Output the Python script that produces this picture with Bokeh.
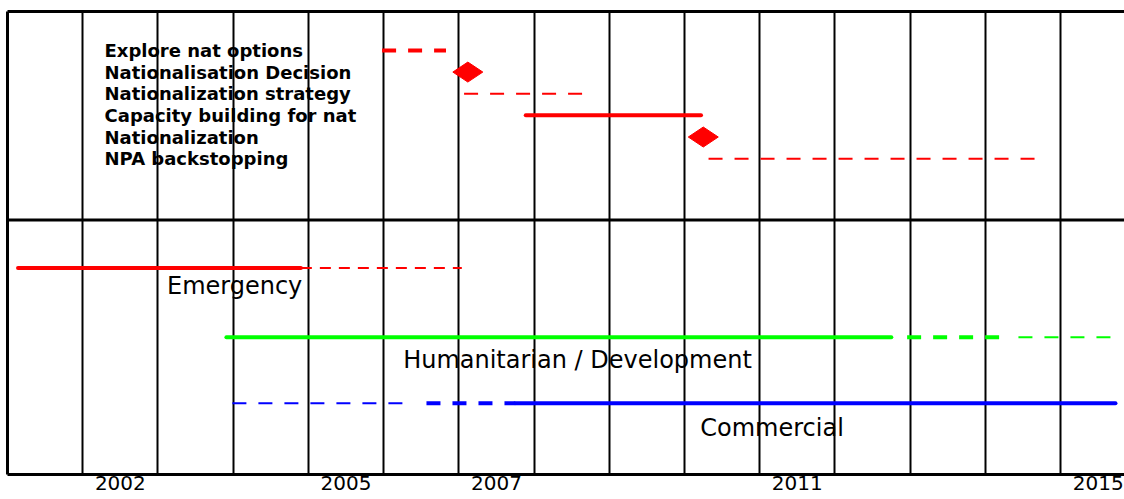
import math
from bokeh.plotting import figure
from bokeh.models import Range1d, FixedTicker, LinearAxis, Span
from bokeh.core.properties import value
from bokeh.embed import file_html
from bokeh.resources import INLINE

# ---------------- data ----------------
# upper section: activity labels (one per row)
activities = ["Explore nat options", "Nationalisation Decision", "Nationalization strategy",
              "Capacity building for nat", "Nationalization", "NPA backstopping"]
act_rows = [1, 2, 3, 4, 5, 6]

# upper section bars (years)
bar_rows = [1, 3, 4, 6]
bar_start = [2005.98, 2007.07, 2007.89, 2010.32]
bar_end = [2006.83, 2008.75, 2010.22, 2014.76]
bar_style = ["thick_dash", "thin_dash", "solid", "thin_dash"]

# milestones
milestone_rows = [2, 5]
milestone_x = [2007.12, 2010.25]

# lower section: phases
phases = ["Emergency", "Humanitarian / Development", "Commercial"]
phase_rows = [11.05, 14.25, 17.3]
phase_colors = ["#ff0000", "#00ff00", "#0000ff"]
phase_label_x = [2003.12, 2006.26, 2010.21]
phase_label_rows = [11.90, 15.31, 18.44]

# phase segments
seg_phase = [0, 0, 1, 1, 1, 2, 2, 2]
seg_start = [2001.14, 2004.90, 2003.91, 2012.96, 2014.44, 2003.99, 2006.57, 2007.75]
seg_end = [2004.90, 2007.04, 2012.75, 2014.28, 2015.73, 2006.39, 2007.75, 2015.73]
seg_style = ["solid", "fine_dash", "solid", "thick_dash", "thin_dash", "thin_dash", "thick_dash", "solid"]

year_edges = list(range(2002, 2016))
tick_years = [2002, 2005, 2007, 2011, 2015]
divider_row = 8.83

# ---------------- styles ----------------
STYLES = {
    "solid": dict(line_width=4, line_dash="solid", line_cap="round"),
    "thick_dash": dict(line_width=4, line_dash="14 12", line_cap="butt"),
    "thin_dash": dict(line_width=2, line_dash="14 12", line_cap="butt"),
    "fine_dash": dict(line_width=2, line_dash="11 8", line_cap="butt"),
}
FONT = "DejaVu Sans"

p = figure(width=1124, height=499, output_backend="svg", toolbar_location=None,
           x_range=Range1d(2001, 2015.85), y_range=Range1d(20.585, -0.797),
           min_border_left=7, min_border_right=0, min_border_top=11, min_border_bottom=25,
           background_fill_color="white", border_fill_color="white")
p.outline_line_color = None

# vertical year lines
p.xgrid.ticker = FixedTicker(ticks=year_edges)
p.xgrid.grid_line_color = "black"
p.xgrid.grid_line_width = 2
p.xgrid.grid_line_alpha = 1
p.ygrid.grid_line_color = None

# bottom axis with year labels
xax = p.xaxis[0]
ticks = [y + 0.5 for y in tick_years]
xax.ticker = FixedTicker(ticks=ticks)
xax.major_label_overrides = {t: str(y) for t, y in zip(ticks, tick_years)}
xax.axis_line_width = 3
xax.axis_line_color = "black"
xax.major_tick_line_color = None
xax.minor_tick_line_color = None
xax.major_tick_out = 0
xax.major_tick_in = 0
xax.major_label_standoff = 1
xax.major_label_text_font = FONT
xax.major_label_text_font_size = "20px"
xax.major_label_text_color = "black"

# left border
yax = p.yaxis[0]
yax.ticker = FixedTicker(ticks=[])
yax.axis_line_width = 3
yax.axis_line_color = "black"
yax.major_tick_line_color = None
yax.minor_tick_line_color = None
yax.major_tick_out = 0
yax.major_label_text_font_size = "0px"

# top border
top = LinearAxis(ticker=FixedTicker(ticks=[]), axis_line_width=3, axis_line_color="black",
                 major_tick_line_color=None, minor_tick_line_color=None, major_tick_out=0,
                 major_label_text_font_size="0px")
p.add_layout(top, "above")

# divider between sections
p.add_layout(Span(location=divider_row, dimension="width", line_color="black", line_width=3))

# upper bars
for style in STYLES:
    idx = [i for i, s in enumerate(bar_style) if s == style]
    if not idx:
        continue
    p.segment(x0=[bar_start[i] for i in idx], y0=[bar_rows[i] for i in idx],
              x1=[bar_end[i] for i in idx], y1=[bar_rows[i] for i in idx],
              line_color="#ff0000", **STYLES[style])

# milestones
p.scatter(x=milestone_x, y=milestone_rows, marker="diamond", size=30, angle=math.pi / 2,
          fill_color="#ff0000", line_color="#ff0000")

# activity labels
p.text(x=[2002.29] * len(activities), y=act_rows, text=activities,
       text_font=value(FONT), text_font_style="bold", text_font_size="18px",
       text_baseline="middle", text_align="left", text_color="black")

# lower phase segments
for style in STYLES:
    idx = [i for i, s in enumerate(seg_style) if s == style]
    if not idx:
        continue
    p.segment(x0=[seg_start[i] for i in idx], y0=[phase_rows[seg_phase[i]] for i in idx],
              x1=[seg_end[i] for i in idx], y1=[phase_rows[seg_phase[i]] for i in idx],
              line_color=[phase_colors[seg_phase[i]] for i in idx], **STYLES[style])

# phase labels
p.text(x=phase_label_x, y=phase_label_rows, text=phases,
       text_font=value(FONT), text_font_size="24px",
       text_baseline="middle", text_align="left", text_color="black")

open("out.html", "w").write(file_html(p, INLINE))
